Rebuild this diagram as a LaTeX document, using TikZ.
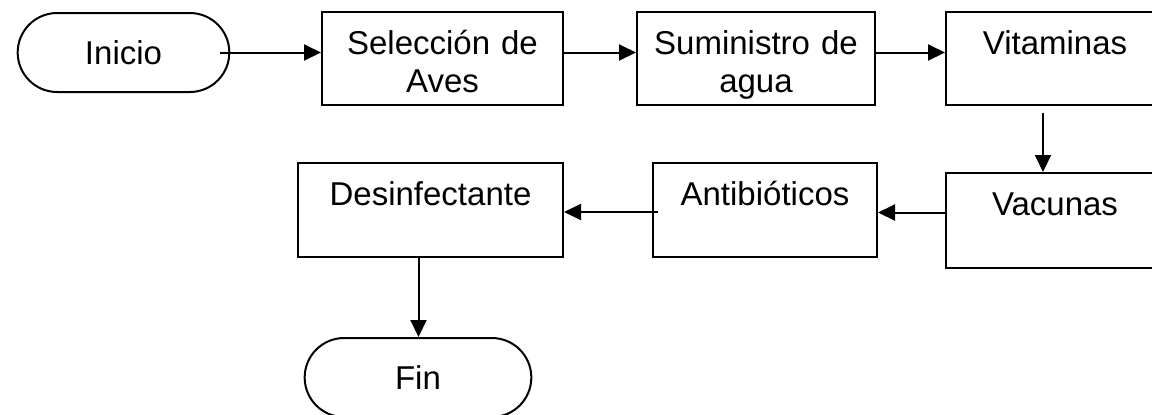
\documentclass[tikz,border=0pt]{standalone}
\usepackage{fontspec}
\setmainfont{Liberation Sans}
\usepackage{tikz}
\usetikzlibrary{arrows.meta,shapes.misc,positioning}

\begin{document}
\begin{tikzpicture}[x=0.5pt,y=-0.5pt,
    every node/.style={font=\fontsize{16.5}{19}\selectfont},
    caja/.style={draw,line width=1pt,inner xsep=0pt,inner ysep=3pt,align=center,
      text height=18pt,text depth=22.5pt},
    extremo/.style={draw,line width=1pt,rounded rectangle,minimum height=39.5pt},
    flecha/.style={line width=1pt,-{Triangle[length=8.5pt,width=8pt]}}]
          \clip (0,0) rectangle (1152,414);

          \node[extremo,minimum width=112.5pt] (inicio) at (123.5,52.5) {Inicio};
          \node[caja,text width=120.5pt] (sel) at (442.5,58.5) {Selección de\\Aves};
          \node[caja,text width=119pt] (sum) at (756,58.5) {Suministro de\\agua};
          \node[caja,text width=109pt] (vit) at (1055,58.5) {Vitaminas};
          \node[caja,text width=109pt,text depth=23.5pt] (vac) at (1055,220.5) {Vacunas};
          \node[caja,text width=112pt,text depth=23pt] (ant) at (765,210) {Antibióticos};
          \node[caja,text width=132.5pt,text depth=23pt] (des) at (430.5,210) {Desinfectante};
          \node[extremo,minimum width=120pt] (fin) at (418,377.5) {Fin};

          \draw[flecha] ([xshift=-5pt]inicio.east) -- (inicio.east -| sel.west);
          \draw[flecha] ([yshift=3pt]sel.east) -- ([yshift=3pt]sel.east -| sum.west);
          \draw[flecha] ([yshift=3pt]sum.east) -- ([yshift=3pt]sum.east -| vit.west);
          \draw[flecha] ([xshift=-6pt,yshift=-3.5pt]vit.south) -- ([xshift=-6pt]vac.north);
          \draw[flecha] ([yshift=4pt]vac.west) -- ([yshift=4pt]vac.west -| ant.east);
          \draw[flecha] ([xshift=3pt,yshift=-1pt]ant.west) -- ([yshift=-1pt]ant.west -| des.east);
          \draw[flecha] ([xshift=-6pt,yshift=1pt]des.south) -- ([xshift=-6pt]des.south |- fin.north);
        \end{tikzpicture}
\end{document}
